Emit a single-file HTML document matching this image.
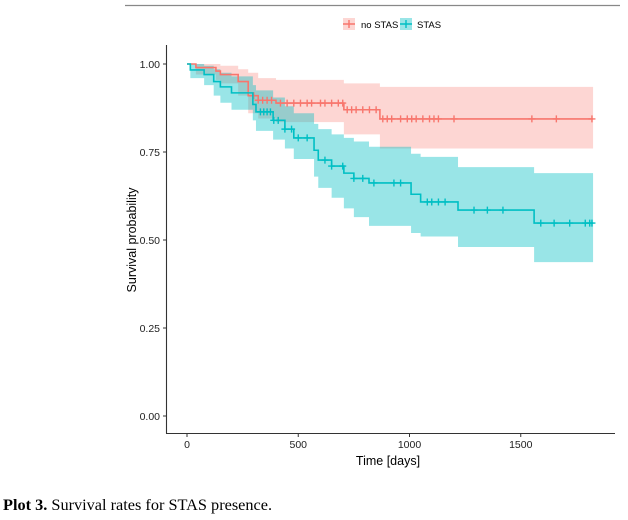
<!DOCTYPE html>
<html><head><meta charset="utf-8">
<style>
html,body{margin:0;padding:0;background:#fff;}
body{width:628px;height:520px;position:relative;overflow:hidden;}
svg{position:absolute;left:0;top:0;}
text{font-family:"Liberation Sans",sans-serif;}
</style></head>
<body>
<svg id="chart" width="628" height="520">
  <line x1="125" y1="5.5" x2="620" y2="5.5" stroke="#888" stroke-width="1.2"/>
  <g id="bands"></g>
  <g id="lines"></g>
  <g id="axes"></g>
  <g id="legend"></g>
  <text x="388" y="465" text-anchor="middle" font-size="12.5" fill="#000">Time [days]</text>
  <text transform="translate(136,240) rotate(-90)" text-anchor="middle" font-size="12.5" fill="#000">Survival probability</text>
  <text x="3" y="510" font-size="16.3" fill="#000" style='font-family:"Liberation Serif",serif'><tspan font-weight="bold">Plot 3.</tspan> Survival rates for STAS presence.</text>
</svg>
<script>
// ---- data ----
const groupNames = ["no STAS", "STAS"];
const xTicks = [0, 500, 1000, 1500];
const yTicks = [0, 0.25, 0.5, 0.75, 1];
const yTickLabels = ["0.00", "0.25", "0.50", "0.75", "1.00"];
const endDay = 1825;
// steps: [day, surv, lower, upper]
const noStasSteps = [
 [0,1,1,1],[40,0.99,0.97,1],[130,0.98,0.955,1],[150,0.97,0.945,0.995],[230,0.95,0.91,0.985],
 [275,0.91,0.86,0.975],[320,0.897,0.845,0.96],[400,0.889,0.835,0.955],[705,0.87,0.80,0.945],[867,0.844,0.76,0.935]
];
const stasSteps = [
 [0,1,1,1],[15,0.983,0.96,1],[77,0.97,0.94,0.995],[120,0.95,0.91,0.985],[150,0.935,0.89,0.975],
 [200,0.918,0.87,0.965],[296,0.885,0.84,0.94],[310,0.864,0.81,0.925],[387,0.84,0.785,0.905],
 [440,0.815,0.76,0.88],[480,0.79,0.73,0.86],[571,0.755,0.68,0.83],[590,0.727,0.648,0.815],
 [650,0.71,0.62,0.80],[705,0.69,0.59,0.79],[750,0.675,0.565,0.78],[818,0.662,0.54,0.765],
 [1007,0.63,0.52,0.745],[1050,0.608,0.51,0.736],[1218,0.585,0.48,0.707],[1560,0.548,0.437,0.69]
];
const noStasCensor = [300,320,340,360,380,420,450,480,510,540,560,600,620,650,680,700,720,740,760,790,820,850,880,900,920,960,990,1010,1030,1060,1090,1110,1130,1200,1550,1660,1820];
const stasCensor = [330,345,360,375,390,410,440,470,500,540,620,650,700,750,790,840,930,960,1080,1100,1130,1160,1290,1350,1420,1590,1650,1720,1790,1810,1820];

// ---- scales ----
const X = d => 187 + d * 0.2225;
const Y = v => 416 - v * 352;
const NS = "http://www.w3.org/2000/svg";
function mk(tag, attrs, parent){const e=document.createElementNS(NS,tag);for(const k in attrs)e.setAttribute(k,attrs[k]);parent.appendChild(e);return e;}
const colors = ["#F8766D", "#00BFC4"];
const alphas = [0.3, 0.4];
const series = [noStasSteps, stasSteps];
const censors = [noStasCensor, stasCensor];
const names = ["no-stas", "stas"];

function survAt(steps, d){let s=steps[0][1];for(const st of steps){if(st[0]<=d)s=st[1];}return s;}

series.forEach((steps, i) => {
  let up = "", lo = "";
  const pts = [];
  for (let k = 0; k < steps.length; k++) {
    const x0 = X(steps[k][0]);
    const x1 = X(k + 1 < steps.length ? steps[k+1][0] : endDay);
    pts.push([x0, x1, steps[k][2], steps[k][3]]);
  }
  pts.forEach(p => { up += `L${p[0]},${Y(p[3])}L${p[1]},${Y(p[3])}`; });
  for (let k = pts.length - 1; k >= 0; k--) { const p = pts[k]; lo += `L${p[1]},${Y(p[2])}L${p[0]},${Y(p[2])}`; }
  const band = mk("path", {d: "M" + up.slice(1) + lo + "Z", fill: colors[i], "fill-opacity": alphas[i], stroke: "none"}, document.getElementById("bands"));
  
  
  let d = `M${X(steps[0][0])},${Y(steps[0][1])}`;
  for (let k = 1; k < steps.length; k++) { d += `H${X(steps[k][0])}V${Y(steps[k][1])}`; }
  d += `H${X(endDay)}`;
  const ln = mk("path", {d: d, fill: "none", stroke: colors[i], "stroke-width": 1.6}, document.getElementById("lines"));
  
  
  censors[i].forEach(c => {
    const cx = X(c), cy = Y(survAt(steps, c));
    const g = mk("path", {d: `M${cx-3.5},${cy}H${cx+3.5}M${cx},${cy-3.5}V${cy+3.5}`, stroke: colors[i], "stroke-width": 1.4}, document.getElementById("lines"));
    
    
  });
});

const ax = document.getElementById("axes");
const yl = mk("line", {x1:166.5, y1:45, x2:166.5, y2:433.5, stroke:"#333", "stroke-width":1.1}, ax);


const xl = mk("line", {x1:166, y1:433.5, x2:615, y2:433.5, stroke:"#333", "stroke-width":1.1}, ax);


yTicks.forEach((v, i) => {
  const t = mk("line", {x1:163, y1:Y(v), x2:166.5, y2:Y(v), stroke:"#333"}, ax);
  
  
  const tx = mk("text", {x:160, y:Y(v)+4, "text-anchor":"end", "font-size":10.5, fill:"#222"}, ax);
  tx.textContent = yTickLabels[i];
  
  
});
xTicks.forEach(v => {
  const t = mk("line", {x1:X(v), y1:433.5, x2:X(v), y2:437, stroke:"#333"}, ax);
  
  
  const tx = mk("text", {x:X(v), y:448, "text-anchor":"middle", "font-size":10.5, fill:"#222"}, ax);
  tx.textContent = String(v);
  
  
});

const lg = document.getElementById("legend");
const keyX = [343, 400], txtX = [361, 417];
groupNames.forEach((n, i) => {
  const r = mk("rect", {x:keyX[i], y:18, width:12, height:12, fill:colors[i], "fill-opacity":alphas[i]}, lg);
  
  
  const cx = keyX[i] + 6;
  const p = mk("path", {d:`M${cx-6},24H${cx+6}M${cx},20V28`, stroke:colors[i], "stroke-width":1.4}, lg);
  
  
  const t = mk("text", {x:txtX[i], y:28, "font-size":9.5, fill:"#000"}, lg);
  t.textContent = n;
  
  
});
</script>
</body></html>
